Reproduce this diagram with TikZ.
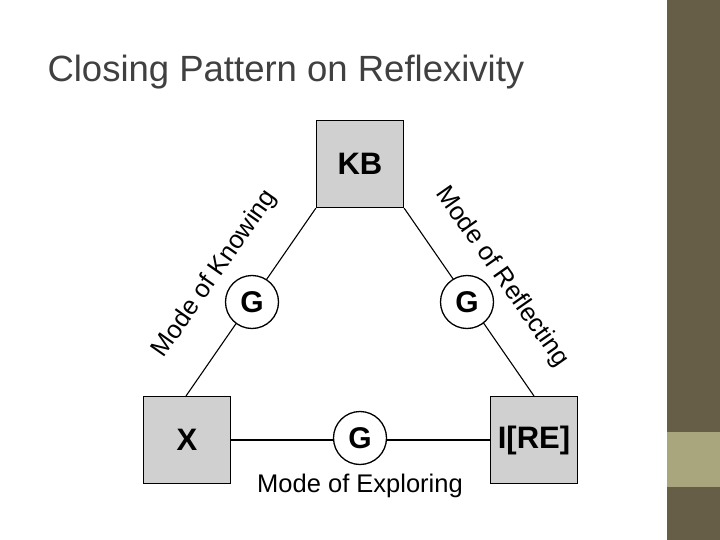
\documentclass[tikz,border=0pt]{standalone}
\usepackage{fontspec}
\setmainfont{Liberation Sans}
\usetikzlibrary{positioning}
\definecolor{barDark}{HTML}{675E48}
\definecolor{barLight}{HTML}{A9A67E}
\definecolor{boxGray}{HTML}{D0D0D0}
\definecolor{titleGray}{HTML}{404040}
\tikzset{
  mode/.style={draw, line width=1.3pt, fill=boxGray, minimum size=87pt, font=\fontsize{31}{36}\selectfont\bfseries},
  gate/.style={draw, line width=1.3pt, circle, fill=white, minimum size=53pt, inner sep=0pt, font=\fontsize{30}{34}\selectfont\bfseries},
  lbl/.style={font=\fontsize{25.5}{30}\selectfont}
}
\begin{document}
\begin{tikzpicture}[x=1pt,y=-1pt]
  \useasboundingbox (0,0) rectangle (720,540);
  \fill[barDark] (667,0) rectangle (720,540);
  \fill[barLight] (667,432) rectangle (720,487);
  \node[anchor=base west, text=titleGray, font=\fontsize{36.5}{42}\selectfont] (title) at (44,82) {Closing Pattern on Reflexivity};
  \node[mode] (kb) at (360,164) {KB};
  \node[mode] (x) at (187,440) {X};
  \node[mode] (ire) at (534,440) {I[RE]};
  \coordinate (xTop) at (186,396);
  \coordinate (ireTop) at (534,396);
  \draw[line width=1.1pt] (kb.south west) -- (xTop);
  \draw[line width=1.1pt] (kb.south east) -- (ireTop);
  \draw[line width=1.1pt] (x) -- (ire);
  \node[gate] (gLeft) at (252,302) {G};
  \node[gate] (gRight) at (467,302) {G};
  \node[gate] (gBottom) at (360,438) {G};
  \node[lbl, rotate=55] (knowing) at (215,274) {Mode of Knowing};
  \node[lbl, rotate=-55] (reflecting) at (502,277) {Mode of Reflecting};
  \node[lbl] (exploring) at (360,486) {Mode of Exploring};
\end{tikzpicture}
\end{document}
